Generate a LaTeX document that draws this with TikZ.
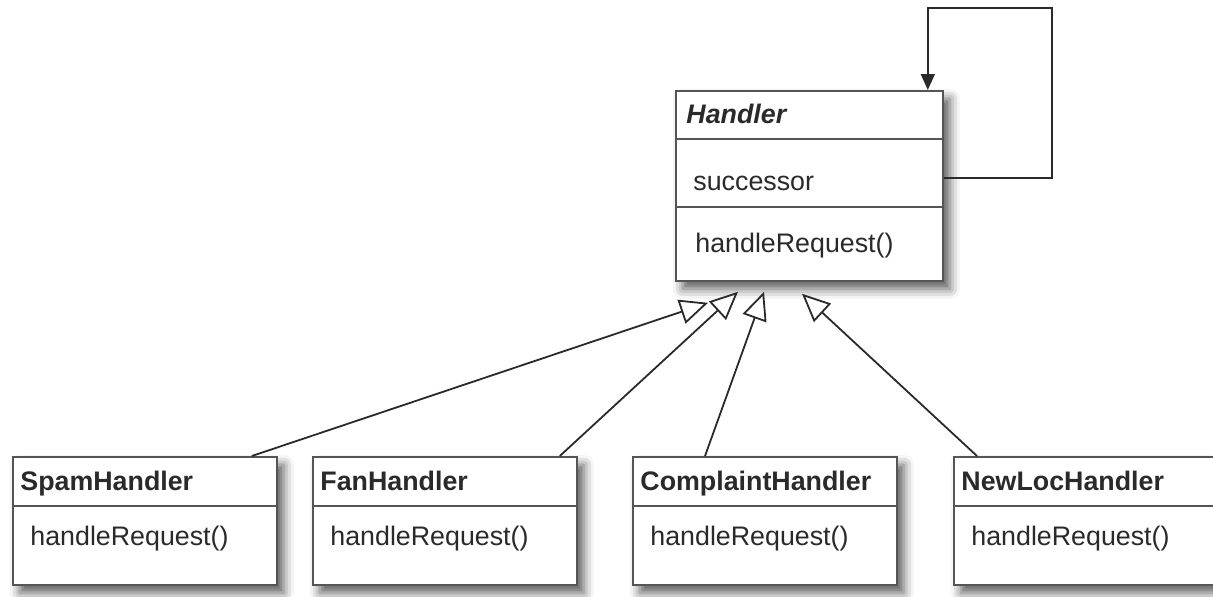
\documentclass[tikz,border=0pt]{standalone}
\usepackage{fontspec}
\setmainfont{Liberation Sans}
\usetikzlibrary{arrows.meta,shadows.blur}
\definecolor{linegray}{HTML}{555555}
\definecolor{textgray}{HTML}{2A2A2A}
\tikzset{
  classbox/.style={draw=linegray, line width=0.9pt, fill=white, anchor=north west, inner sep=0pt,
    blur shadow={shadow xshift=3.5pt, shadow yshift=-4pt, shadow blur radius=5pt, shadow opacity=65}},
  lowbox/.style={classbox, minimum width=132pt, minimum height=64pt},
  divider/.style={draw=linegray, line width=0.6pt},
  label/.style={anchor=base west, inner sep=0pt, text=textgray, font=\fontsize{13.4}{16}\selectfont},
  title/.style={label, font=\fontsize{13.4}{16}\selectfont\bfseries},
  gen/.style={draw=textgray, line width=0.9pt, -{Triangle[open, length=14pt, width=12.5pt, line width=0.9pt]}},
  selfloop/.style={draw=textgray, line width=0.9pt, -{Triangle[length=8pt, width=7pt]}}
}
\begin{document}
\begin{tikzpicture}[x=0.5pt, y=-0.5pt]
\useasboundingbox (0,0) rectangle (1213,596);
% Handler
\node[classbox, minimum width=133.5pt, minimum height=95pt] (Handler) at (675,90) {};
\draw[divider] ([yshift=-24.5pt]Handler.north west) -- ([yshift=-24.5pt]Handler.north east);
\draw[divider] ([yshift=-58.5pt]Handler.north west) -- ([yshift=-58.5pt]Handler.north east);
\node[title, font=\fontsize{13.4}{16}\selectfont\bfseries\itshape] (htitle) at (686,123) {Handler};
\node[label] (hattr) at (693,190) {successor};
\node[label] (hop) at (695,252) {handleRequest()};
% lower boxes
\node[lowbox] (Spam) at (12,456) {};
\node[lowbox] (Fan) at (312,456) {};
\node[lowbox] (Complaint) at (632,456) {};
\node[lowbox] (NewLoc) at (953,456) {};
\foreach \n/\t in {Spam/SpamHandler, Fan/FanHandler, Complaint/ComplaintHandler, NewLoc/NewLocHandler}{
  \draw[divider] ([yshift=-25pt]\n.north west) -- ([yshift=-25pt]\n.north east);
  \node[title] (\n title) at ([xshift=4pt, yshift=-17pt]\n.north west) {\t};
  \node[label] (\n op) at ([xshift=9pt, yshift=-44.5pt]\n.north west) {handleRequest()};
}
% self association
\draw[selfloop] ([yshift=4pt]Handler.east) -| (1052,8) -| ([xshift=-8pt]Handler.north east);
% generalizations
\coordinate (t1) at ([xshift=16.5pt, yshift=-10.5pt]Handler.south west);
\coordinate (t2) at ([xshift=31.5pt, yshift=-5pt]Handler.south west);
\coordinate (t3) at ([xshift=44.5pt, yshift=-5pt]Handler.south west);
\coordinate (t4) at ([xshift=63.5pt, yshift=-6pt]Handler.south west);
\draw[gen] ([xshift=-13pt]Spam.north east) -- (t1);
\draw[gen] ([xshift=-9pt]Fan.north east) -- (t2);
\draw[gen] ([xshift=36.5pt]Complaint.north west) -- (t3);
\draw[gen] ([xshift=12pt]NewLoc.north west) -- (t4);
\end{tikzpicture}
\end{document}
